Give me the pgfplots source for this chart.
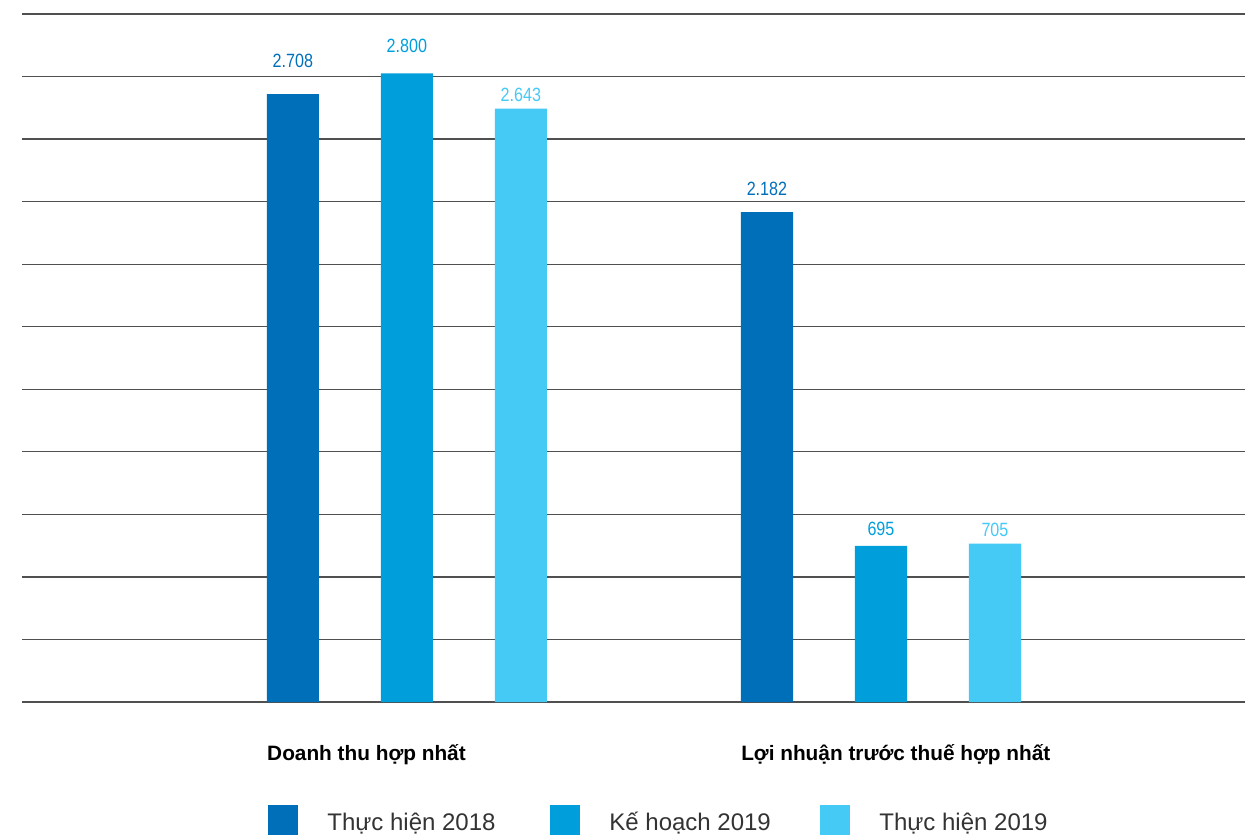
\documentclass[border=0pt]{standalone}
\usepackage{pgfplots}
\pgfplotsset{compat=1.18}
\usepackage{pgfplotstable}
\usepackage{fontspec}
\setmainfont{Liberation Sans}
\newfontfamily\valfont[FakeStretch=0.84]{Liberation Sans}
\definecolor{cA}{HTML}{006FB9}
\definecolor{cB}{HTML}{009FDC}
\definecolor{cC}{HTML}{45C9F5}
\definecolor{gridc}{HTML}{505050}

\pgfplotstableread{
x y off
1 2708 16.5
2 2182 11.5
}\tA
\pgfplotstableread{
x y off
1 2800 14
2 695 8.5
}\tB
\pgfplotstableread{
x y off
1 2643 7
2 705 7
}\tC

\begin{document}
\begin{tikzpicture}
\useasboundingbox (-11pt,-66pt) rectangle (611.5pt,351pt);
\begin{axis}[
  at={(0,0)}, anchor=south west,
  scale only axis, width=611.5pt, height=344pt,
  xmin=0.188, xmax=2.768, ymin=0, ymax=3065,
  axis line style={draw=none},
  tick style={draw=none},
  xtick=\empty,
  ytick={0,278.64,557.27,835.91,1114.55,1393.18,1671.82,1950.45,2229.09,2507.73,2786.36,3065},
  yticklabels={},
  yticklabel style={text opacity=0},
  ymajorgrids,
  grid style={gridc, line width=0.6pt},
  ybar, bar width=0.11,
  clip=false,
  nodes near coords,
  /pgf/number format/.cd, fixed, precision=0, 1000 sep={.}, assume math mode=true,
  /pgfplots/.cd,
  visualization depends on={\thisrow{off} \as \myoff},
  every node near coord/.append style={font=\valfont\fontsize{9.6}{11}\selectfont, anchor=center, inner sep=0pt, yshift=\myoff pt},
]
\addplot[fill=cA, draw=none, bar shift=-0.2405, every node near coord/.append style={text=cA}] table[x=x,y=y]{\tA};
\addplot[fill=cB, draw=none, bar shift=0, every node near coord/.append style={text=cB}] table[x=x,y=y]{\tB};
\addplot[fill=cC, draw=none, bar shift=0.2405, every node near coord/.append style={text=cC}] table[x=x,y=y]{\tC};
\node[anchor=west, inner sep=0pt, yshift=-26.5pt, font=\bfseries\fontsize{10.4}{12}\selectfont] at (axis cs:0.7045,0) {Doanh thu hợp nhất};
\node[anchor=west, inner sep=0pt, yshift=-26.5pt, font=\bfseries\fontsize{10.4}{12}\selectfont] at (axis cs:1.7045,0) {Lợi nhuận trước thuế hợp nhất};
\end{axis}
\begin{scope}[every node/.style={anchor=base west, inner sep=0pt, text=black!80, font=\fontsize{12}{14}\selectfont}]
\fill[cA] (123pt,-51.5pt) rectangle (138pt,-67pt);
\node at (152.5pt,-64pt) {Thực hiện 2018};
\fill[cB] (264pt,-51.5pt) rectangle (279pt,-67pt);
\node at (293.5pt,-64pt) {Kế hoạch 2019};
\fill[cC] (399pt,-51.5pt) rectangle (414pt,-67pt);
\node at (428.5pt,-64pt) {Thực hiện 2019};
\end{scope}
\end{tikzpicture}
\end{document}
